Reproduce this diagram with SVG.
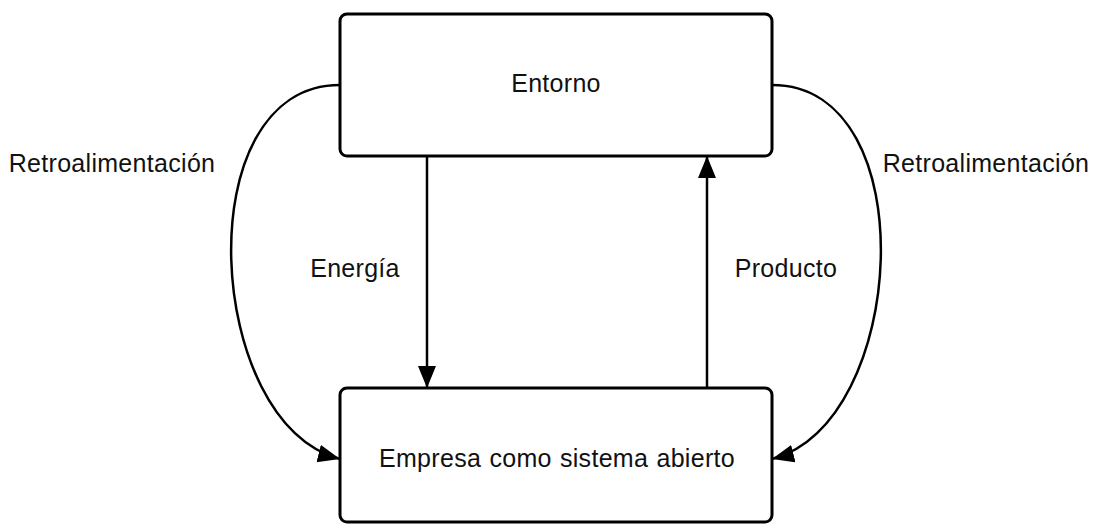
<svg xmlns="http://www.w3.org/2000/svg" width="1094" height="526" viewBox="0 0 1094 526">
<style>
.box{fill:#fff;stroke:#000;stroke-width:3}
.edge{fill:none;stroke:#000;stroke-width:2.5}
text{font-family:"Liberation Sans",Arial,sans-serif;font-size:25px;fill:#111;letter-spacing:0.3px}
</style>
<defs>
<marker id="arr" markerUnits="userSpaceOnUse" markerWidth="24" markerHeight="20" refX="22" refY="9" orient="auto">
<path d="M0,0 L22,9 L0,18 Z" fill="#000"/>
</marker>
</defs>
<rect width="1094" height="526" fill="#fff"/>
<g id="entorno">
<rect class="box" x="340" y="14" width="432" height="142" rx="7"/>
<text x="556" y="92" text-anchor="middle">Entorno</text>
</g>
<g id="empresa">
<rect class="box" x="340" y="388" width="432" height="134" rx="7"/>
<text x="557" y="467" text-anchor="middle" word-spacing="1">Empresa como sistema abierto</text>
</g>
<g id="connectors">
<path class="edge" d="M427,156 L427,388" marker-end="url(#arr)"/>
<path class="edge" d="M707,388 L707,156" marker-end="url(#arr)"/>
<path class="edge" d="M340,85 C185,85 205,425 340,459" marker-end="url(#arr)"/>
<path class="edge" d="M772,85 C927,85 907,425 772,459" marker-end="url(#arr)"/>
</g>
<g id="labels">
<text x="355" y="277" text-anchor="middle">Energía</text>
<text x="786" y="277" text-anchor="middle">Producto</text>
<text x="112" y="172" text-anchor="middle">Retroalimentación</text>
<text x="986" y="172" text-anchor="middle">Retroalimentación</text>
</g>
</svg>
